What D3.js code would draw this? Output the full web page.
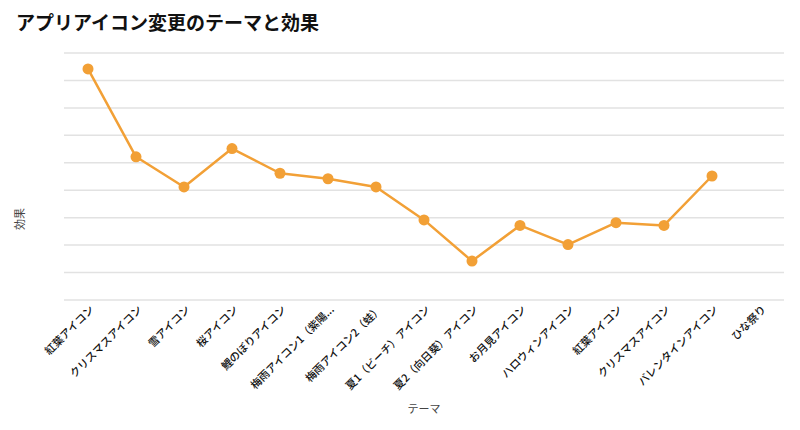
<!DOCTYPE html>
<html>
<head>
<meta charset="utf-8">
<script src="https://cdn.jsdelivr.net/npm/d3@7"></script>
<style>
  body { margin: 0; background: #fff; }
  text { font-family: "Noto Sans CJK JP", "Noto Sans", sans-serif; }
</style>
</head>
<body>
<svg id="chart" width="800" height="430"></svg>
<script>
const categories = ["紅葉アイコン", "クリスマスアイコン", "雪アイコン", "桜アイコン", "鯉のぼりアイコン", "梅雨アイコン1（紫陽...", "梅雨アイコン2（蛙）", "夏1（ビーチ）アイコン", "夏2（向日葵）アイコン", "お月見アイコン", "ハロウィンアイコン", "紅葉アイコン ", "クリスマスアイコン ", "バレンタインアイコン", "ひな祭り"];
const values = [84, 52, 41, 55, 46, 44, 41, 29, 14, 27, 20, 28, 27, 45, null];
const yTicks = [0, 10, 20, 30, 40, 50, 60, 70, 80, 90];

const svg = d3.select("#chart");
const margin = { left: 64, right: 16, top: 52.5, bottom: 130.5 };
const W = 800, H = 430;

const x = d3.scaleBand().domain(d3.range(categories.length)).range([margin.left, W - margin.right]);
const y = d3.scaleLinear().domain([0, 90]).range([H - margin.bottom, margin.top]);

svg.append("text").attr("x", 16).attr("y", 30)
  .attr("font-size", 19).attr("font-weight", "bold").attr("fill", "#111")
  .text("アプリアイコン変更のテーマと効果");

// gridlines
const yAxis = d3.axisLeft(y).tickValues(yTicks).tickSize(-(W - margin.left - margin.right)).tickFormat("");
const gy = svg.append("g").attr("transform", `translate(${margin.left},0)`).call(yAxis);
gy.select(".domain").remove();
gy.selectAll(".tick line").attr("stroke", "#e2e2e2").attr("stroke-width", 1.5);

// x axis labels
const xAxis = d3.axisBottom(x).tickSize(0).tickFormat(i => categories[i]);
const gx = svg.append("g").attr("transform", `translate(0,${H - margin.bottom})`).call(xAxis);
gx.select(".domain").remove();
gx.selectAll(".tick text")
  .attr("font-size", 10.8).attr("fill", "#111").attr("font-weight", 500)
  .attr("text-anchor", "end")
  .attr("dy", "0.35em")
  .attr("transform", "translate(4,8) rotate(-45)")
  .attr("x", 0).attr("y", 0);

// axis titles
svg.append("text").attr("x", (margin.left + W - margin.right) / 2).attr("y", 413)
  .attr("text-anchor", "middle").attr("font-size", 11).attr("fill", "#444").text("テーマ");
svg.append("text").attr("transform", "translate(24,219) rotate(-90)")
  .attr("text-anchor", "middle").attr("font-size", 11).attr("fill", "#444").text("効果");

const color = "#f2a036";
const pts = values.map((v, i) => ({ i, v })).filter(d => d.v !== null);
const line = d3.line().x(d => x(d.i) + x.bandwidth() / 2).y(d => y(d.v));
svg.append("path").datum(pts).attr("d", line)
  .attr("fill", "none").attr("stroke", color).attr("stroke-width", 2.5).attr("stroke-linejoin", "round");
svg.selectAll("circle.pt").data(pts).enter().append("circle").attr("class", "pt")
  .attr("cx", d => x(d.i) + x.bandwidth() / 2).attr("cy", d => y(d.v))
  .attr("r", 5.5).attr("fill", color);
</script>
</body>
</html>
